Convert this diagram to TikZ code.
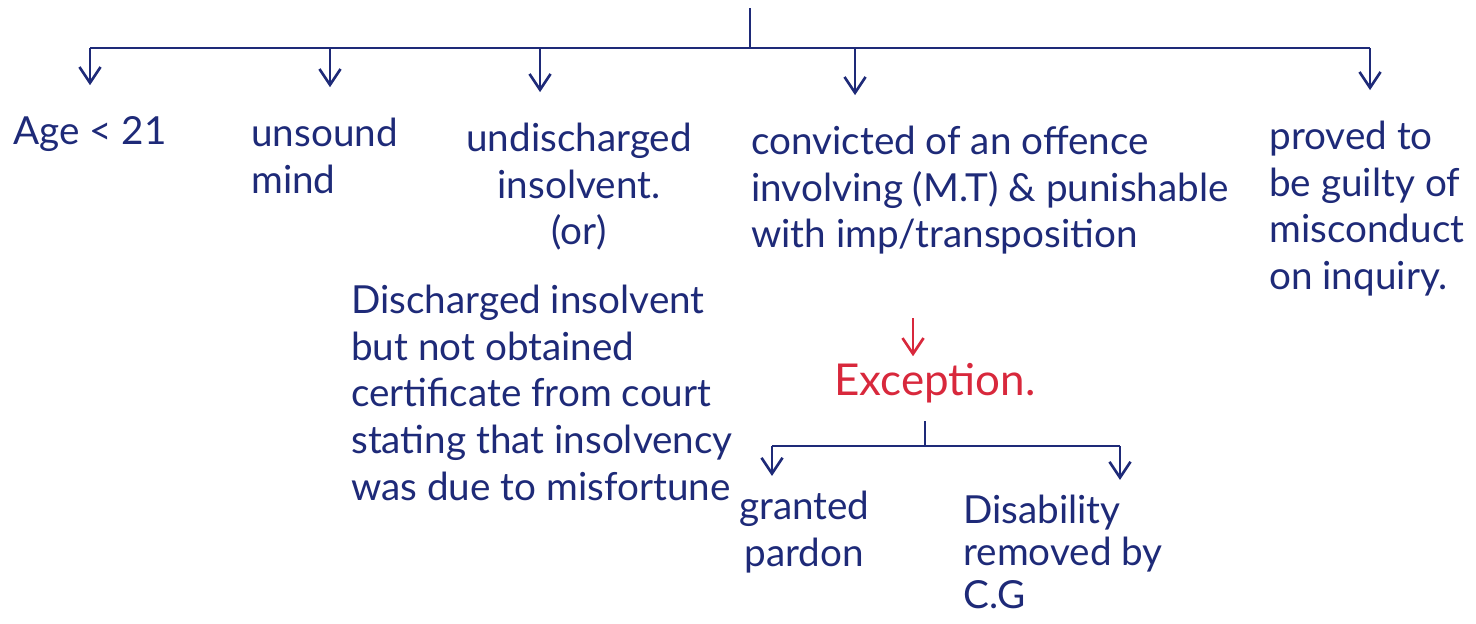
\documentclass[tikz,border=0pt]{standalone}
\usepackage{fontspec}
\setmainfont{Lato}
\usepackage{tikz}
\usetikzlibrary{arrows.meta,positioning}
\definecolor{ink}{HTML}{1E2A78}
\definecolor{redink}{HTML}{D8283C}

\begin{document}
\begin{tikzpicture}[x=0.02cm,y=-0.02cm,color=ink,line width=1.5pt,
  font=\fontsize{22}{26.5}\selectfont,
  txt/.style={inner sep=0pt,anchor=north west,align=left},
  arr/.style={-{Straight Barb[length=9pt,width=12pt]}}]
\useasboundingbox (0,0) rectangle (1476,623);
% disqualifications
\node[txt] (age) at (12,115) {Age < 21};
\node[txt] (unsound) at (250,117) {unsound\\mind};
\node[txt,align=center] (undisch) at (465,122) {undischarged\\insolvent.\\(or)};
\node[txt] (disch) at (350,284) {Discharged insolvent\\but not obtained\\certificate from court\\stating that insolvency\\was due to misfortune};
\node[txt] (convicted) at (750,125) {convicted of an offence\\involving (M.T) \& punishable\\with imp/transposition};
\node[txt] (proved) at (1268,120) {proved to\\be guilty of\\misconduct\\on inquiry.};
% exception
\node[txt,anchor=base,text=redink,font=\fontsize{25}{30}\selectfont] (exception) at (935,395) {Exception.};
\node[txt,align=center] (granted) at (738,490) {granted\\pardon};
\node[txt,font=\fontsize{22}{24}\selectfont] (disab) at (962,494) {Disability\\removed by\\C.G};
\coordinate (head) at (750,8);
\coordinate (bus) at (750,48);
\draw (head) -- (bus);
\foreach \n/\x in {age/90,unsound/330,undisch/540,convicted/855,proved/1370} {
  \coordinate (b-\n) at (\x,48);
  \draw[arr,shorten >=17pt] (b-\n) -- (b-\n |- \n.north);
}
\draw (b-age) -- (b-proved);
\coordinate (rtip) at (913,318);
\draw[arr,redink,shorten >=3pt] (rtip) -- (rtip |- exception.north);
\coordinate (ebus) at (925,446);
\coordinate (el) at (772,446);
\coordinate (er) at (1120,446);
\draw[shorten <=10pt] (ebus |- exception.south) -- (ebus);
\draw (el) -- (er);
\foreach \n/\c in {granted/el,disab/er}
  \draw[arr,shorten >=8pt] (\c) -- (\c |- \n.north);
\end{tikzpicture}
\end{document}
